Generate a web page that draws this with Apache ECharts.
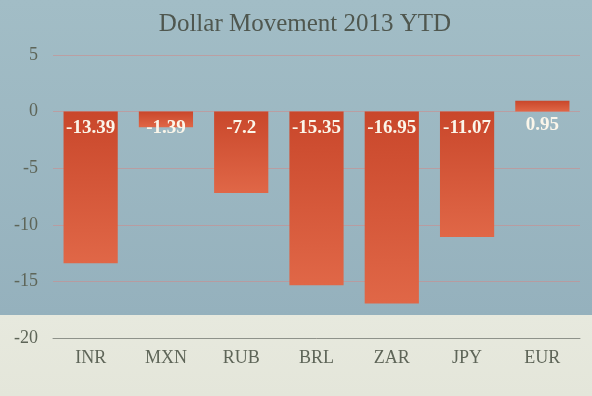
<!DOCTYPE html>
<html><head><meta charset="utf-8">
<script src="https://cdn.jsdelivr.net/npm/echarts@6/dist/echarts.min.js"></script>
<style>html,body{margin:0;padding:0;}#c{width:592px;height:396px;}</style>
</head><body><div id="c"></div>
<script>
var categories = ['INR','MXN','RUB','BRL','ZAR','JPY','EUR'];
var values = [-13.39,-1.39,-7.2,-15.35,-16.95,-11.07,0.95];
var yTicks = [5,0,-5,-10,-15,-20];

var chart = echarts.init(document.getElementById('c'));
var serif = '"Liberation Serif", "DejaVu Serif", serif';
chart.setOption({
  backgroundColor: {
    type: 'linear', x: 0, y: 0, x2: 0, y2: 1,
    colorStops: [
      {offset: 0, color: '#a2bdc6'},
      {offset: 0.795, color: '#95b1bd'},
      {offset: 0.796, color: '#e7e9de'},
      {offset: 1, color: '#e4e6da'}
    ]
  },
  animation: false,
  title: {
    text: 'Dollar Movement 2013 YTD',
    left: 300, top: 7, textAlign: 'center',
    textStyle: {fontFamily: serif, fontSize: 25, fontWeight: 'normal', color: '#4f574f'}
  },
  grid: {left: 53, right: 12, top: 55, bottom: 58},
  xAxis: {
    type: 'category', data: categories,
    axisLine: {show: true, onZero: false, lineStyle: {color: '#8e928a', width: 1}},
    axisTick: {show: false},
    axisLabel: {fontFamily: serif, fontSize: 18, color: '#5e6558', margin: 11}
  },
  yAxis: {
    type: 'value', min: -20, max: 5, interval: 5,
    axisLine: {show: false}, axisTick: {show: false},
    axisLabel: {fontFamily: serif, fontSize: 18, color: '#5e6558', margin: 15,
      formatter: function(v){ return yTicks.indexOf(v) >= 0 ? String(v) : ''; }},
    splitLine: {lineStyle: {color: 'rgba(205,140,140,0.6)', width: 1}}
  },
  series: [{
    type: 'bar',
    barCategoryGap: '28%',
    data: values.map(function(v){
      return {value: v, label: {position: v < 0 ? 'insideTop' : 'bottom', distance: v < 0 ? 7 : 4}};
    }),
    itemStyle: {
      color: {type: 'linear', x: 0, y: 0, x2: 0, y2: 1,
        colorStops: [{offset: 0, color: '#c9472b'}, {offset: 1, color: '#e06747'}]}
    },
    label: {
      show: true, fontFamily: serif, fontSize: 19, fontWeight: 'bold', color: '#fbf6ea'
    }
  }]
});
</script></body></html>
